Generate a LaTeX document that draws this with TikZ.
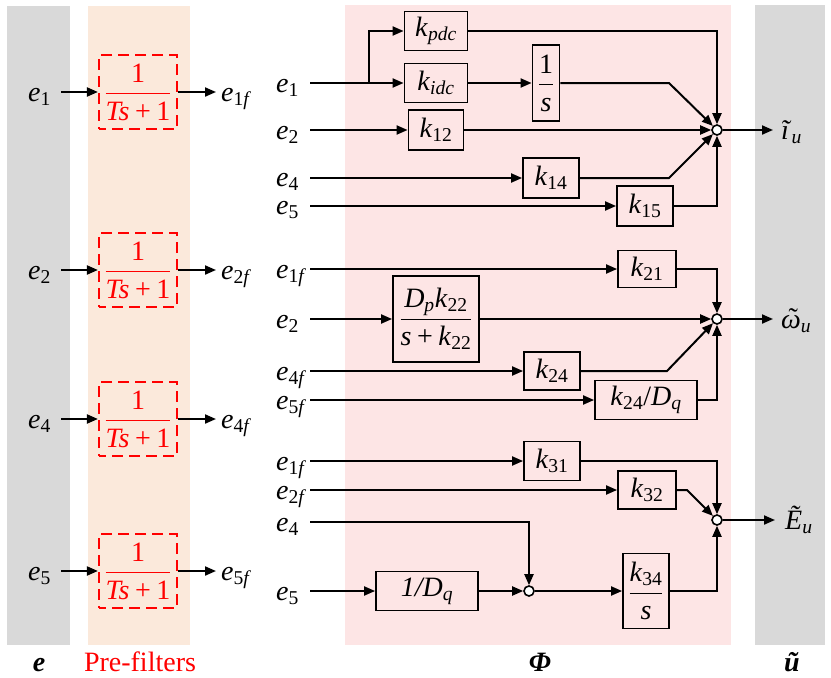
\documentclass[tikz,border=0pt]{standalone}
\usepackage{fix-cm}
\usepackage{amsmath}
\usepackage{fontspec}
\setmainfont{Liberation Serif}
\usetikzlibrary{arrows.meta}
\newcommand{\vsub}[2]{\textit{#1}\textsubscript{#2}}
\newcommand{\tildeom}{\leavevmode\ooalign{\textit{ω}\cr\hidewidth\kern0.15em\raisebox{0.02em}{\char"02DC}\hidewidth\cr}}
\definecolor{bandgray}{HTML}{D9D9D9}
\definecolor{bandorange}{HTML}{FBE9DB}
\definecolor{bandpink}{HTML}{FDE5E5}
\begin{document}
\begin{tikzpicture}[x=1pt,y=-1pt,
  font=\fontsize{28}{33}\selectfont,
  lab/.style={inner sep=0pt},
  blk/.style={draw=black,line width=1.8pt,inner sep=0pt},
  pf/.style={draw=red,line width=2.2pt,dash pattern=on 11pt off 6pt,dash phase=4pt,
     minimum width=78pt,minimum height=74pt,inner sep=0pt,text=red},
  wire/.style={line width=2pt},
  arr/.style={line width=2pt,-{Triangle[length=11pt,width=9pt]}},
  sum/.style={circle,draw=black,fill=white,line width=1.6pt,minimum size=10pt,inner sep=0pt},
  bold/.style={font=\fontsize{28}{33}\selectfont\bfseries\itshape}
]
\useasboundingbox (0,0) rectangle (831,678);
% bands
\fill[bandgray] (7,6) rectangle (70,645);
\fill[bandorange] (88,6) rectangle (190,645);
\fill[bandpink] (345,5) rectangle (731,645);
\fill[bandgray] (755,5) rectangle (825,645);

% pre-filters
\foreach \n/\y in {1/92,2/270,4/419,5/571}{
  \node[pf] (pf\n) at (138,\y) {$\dfrac{\mbox{1}}{\mbox{\textit{Ts}\hspace{0.2em}+\hspace{0.2em}1}}$};
  \node[lab,anchor=base west] (ei\n) at (28,\y+9) {\vsub{e}{\n}};
  \coordinate (ci\n) at (61,\y);
  \draw[arr] (ci\n) -- (pf\n.west);
  \coordinate (co\n) at (216,\y);
  \draw[arr] (pf\n.east) -- (co\n);
  \node[lab,anchor=base west] (eo\n) at (221,\y+9) {\vsub{e}{\n\textit{f}}};
}

% ---------- group 1 ----------
\node[lab,anchor=base west] (g1e1) at (276,92) {\vsub{e}{1}};
\node[lab,anchor=base west] (g1e2) at (276,139) {\vsub{e}{2}};
\node[lab,anchor=base west] (g1e4) at (276,186) {\vsub{e}{4}};
\node[lab,anchor=base west] (g1e5) at (276,214) {\vsub{e}{5}};
\coordinate (a1) at (310,83);
\coordinate (a2) at (310,130);
\coordinate (a4) at (310,178);
\coordinate (a5) at (310,206);
\coordinate (br) at (369,83);

\node[blk,minimum width=63pt,minimum height=39pt] (kpdc) at (436,31) {\vsub{k}{\textit{pdc}}};
\node[blk,minimum width=63pt,minimum height=39pt] (kidc) at (436,83) {\vsub{k}{\textit{idc}}};
\node[blk,minimum width=27pt,minimum height=76pt] (int1) at (546,83) {$\dfrac{\mbox{1}}{\mbox{\textit{s}}}$};
\node[blk,minimum width=55pt,minimum height=40pt] (k12) at (436,130) {\vsub{k}{12}};
\node[blk,minimum width=56pt,minimum height=40pt] (k14) at (551,178) {\vsub{k}{14}};
\node[blk,minimum width=56pt,minimum height=40pt] (k15) at (645,206) {\vsub{k}{15}};
\node[sum] (s1) at (717,130) {};
\coordinate (d1) at (669,83);
\coordinate (d14) at (669,178);
\coordinate (o1) at (773,130);

\draw[wire] (a1) -- (br);
\draw[arr] (br) -- (kidc.west);
\draw[arr] (br) |- (kpdc.west);
\draw[arr] (kidc.east) -- (int1.west);
\draw[arr] (int1.east) -- (d1) -- (s1);
\draw[arr] (kpdc.east) -| (s1.north);
\draw[arr] (a2) -- (k12.west);
\draw[arr] (k12.east) -- (s1.west);
\draw[arr] (a4) -- (k14.west);
\draw[arr] (k14.east) -- (d14) -- (s1);
\draw[arr] (a5) -- (k15.west);
\draw[arr] (k15.east) -| (s1.south);
\draw[arr] (s1.east) -- (o1);
\node[lab,anchor=base west] (y1) at (781,139) {\textit{ĩ}\textsubscript{\textit{u}}};

% ---------- group 2 ----------
\node[lab,anchor=base west] (g2e1) at (276,278) {\vsub{e}{1\textit{f}}};
\node[lab,anchor=base west] (g2e2) at (276,328) {\vsub{e}{2}};
\node[lab,anchor=base west] (g2e4) at (276,380) {\vsub{e}{4\textit{f}}};
\node[lab,anchor=base west] (g2e5) at (276,409) {\vsub{e}{5\textit{f}}};
\coordinate (b1) at (310,269);
\coordinate (b2) at (310,319);
\coordinate (b4) at (310,371);
\coordinate (b5) at (310,400);

\node[blk,minimum width=58pt,minimum height=37pt] (k21) at (647,269) {\vsub{k}{21}};
\node[blk,minimum width=86pt,minimum height=86pt] (dp) at (436,319)
  {$\dfrac{\mbox{\vsub{D}{\textit{p}}\vsub{k}{22}}}{\mbox{\textit{s}\hspace{0.2em}+\hspace{0.2em}\vsub{k}{22}}}$};
\node[blk,minimum width=56pt,minimum height=38pt] (k24) at (552,371) {\vsub{k}{24}};
\node[blk,minimum width=102pt,minimum height=39pt] (k24d) at (646,400) {\vsub{k}{24}/\vsub{D}{\textit{q}}};
\node[sum] (s2) at (717,319) {};
\coordinate (d24) at (667,371);
\coordinate (o2) at (773,319);

\draw[arr] (b1) -- (k21.west);
\draw[arr] (k21.east) -| (s2.north);
\draw[arr] (b2) -- (dp.west);
\draw[arr] (dp.east) -- (s2.west);
\draw[arr] (b4) -- (k24.west);
\draw[arr] (k24.east) -- (d24) -- (s2);
\draw[arr] (b5) -- (k24d.west);
\draw[arr] (k24d.east) -| (s2.south);
\draw[arr] (s2.east) -- (o2);
\node[lab,anchor=base west] (y2) at (781,328) {\tildeom\textsubscript{\textit{u}}};

% ---------- group 3 ----------
\node[lab,anchor=base west] (g3e1) at (276,470) {\vsub{e}{1\textit{f}}};
\node[lab,anchor=base west] (g3e2) at (276,499) {\vsub{e}{2\textit{f}}};
\node[lab,anchor=base west] (g3e4) at (276,531) {\vsub{e}{4}};
\node[lab,anchor=base west] (g3e5) at (276,600) {\vsub{e}{5}};
\coordinate (c1) at (310,461);
\coordinate (c2) at (310,490);
\coordinate (c4) at (310,522);
\coordinate (c5) at (310,591);

\node[blk,minimum width=56pt,minimum height=39pt] (k31) at (552,461) {\vsub{k}{31}};
\node[blk,minimum width=58pt,minimum height=38pt] (k32) at (647,490) {\vsub{k}{32}};
\node[blk,minimum width=102pt,minimum height=39pt] (dq) at (427,591) {\textit{1/D}\textsubscript{\textit{q}}};
\node[blk,minimum width=46pt,minimum height=75pt] (k34) at (646,591) {$\dfrac{\mbox{\vsub{k}{34}}}{\mbox{\textit{s}}}$};
\node[sum] (s3) at (717,520) {};
\node[sum] (s4) at (529,591) {};
\coordinate (d32) at (687,490);
\coordinate (o3) at (775,520);

\draw[arr] (c1) -- (k31.west);
\draw[arr] (k31.east) -| (s3.north);
\draw[arr] (c2) -- (k32.west);
\draw[arr] (k32.east) -- (d32) -- (s3);
\draw[arr] (c4) -| (s4.north);
\draw[arr] (c5) -- (dq.west);
\draw[arr] (dq.east) -- (s4.west);
\draw[arr] (s4.east) -- (k34.west);
\draw[arr] (k34.east) -| (s3.south);
\draw[arr] (s3.east) -- (o3);
\node[lab,anchor=base west] (y3) at (785,529) {\textit{Ẽ}\textsubscript{\textit{u}}};

% bottom labels
\node[lab,bold,anchor=base] (le) at (39,671) {e};
\node[lab,text=red,anchor=base] (lpf) at (140,671) {Pre-filters};
\node[lab,bold,anchor=base] (lphi) at (540,671) {Φ};
\node[lab,bold,anchor=base] (lu) at (792,671) {ũ};
\end{tikzpicture}
\end{document}
